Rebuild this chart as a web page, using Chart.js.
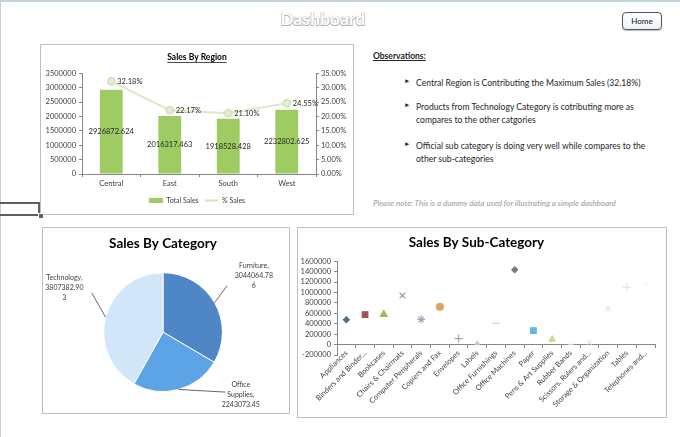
<!DOCTYPE html>
<html>
<head>
<meta charset="utf-8">
<script src="https://cdn.jsdelivr.net/npm/chart.js@4.4.1/dist/chart.umd.min.js"></script>
<style>
html,body{margin:0;padding:0;background:#fff;}
body{width:680px;height:437px;position:relative;overflow:hidden;font-family:Lato,'Open Sans',sans-serif;color:#262626;}
.frame{position:absolute;left:0;top:0;width:680px;height:437px;box-sizing:border-box;border-top:2px solid #c3d2da;border-left:1px solid #c3d2da;}
.box{position:absolute;box-sizing:border-box;border:1px solid #bfbfbf;background:#fff;}
canvas{position:absolute;display:block;}
#dash{position:absolute;left:250px;width:146px;top:8px;text-align:center;font:bold 17px Lato,sans-serif;color:#fff;letter-spacing:0.3px;
  text-shadow:-0.5px -0.5px 0 #b4b4b4,0.5px -0.5px 0 #b4b4b4,-0.5px 0.5px 0 #b4b4b4,0.5px 0.5px 0 #b4b4b4;}
#home{position:absolute;left:622px;top:12px;width:40px;height:18px;box-sizing:border-box;border:1px solid #555;border-radius:4px;background:linear-gradient(#ffffff,#e9f2f7);font:8px Lato,sans-serif;text-align:center;line-height:16px;color:#111;box-shadow:0 1px 1px #bbb;}
#sel{position:absolute;left:-2px;top:202px;width:42px;height:14px;box-sizing:border-box;border:2px solid #5f5f5f;}
#selh{position:absolute;left:38px;top:213px;width:4px;height:4px;background:#5f5f5f;border:1px solid #fff;}
.obs{position:absolute;font-size:8.6px;line-height:12.6px;color:#262626;}
.obsT{position:absolute;left:373px;top:51px;font-weight:bold;font-size:8.5px;text-decoration:underline;color:#262626;}
.bul{position:absolute;font-size:6.5px;color:#262626;}
.note{position:absolute;left:373px;top:198px;font-style:italic;font-weight:400;font-size:8px;color:#9a9a9a;}
</style>
</head>
<body>
<div class="frame"></div>
<div id="dash">Dashboard</div>
<div id="home">Home</div>

<div class="box" style="left:40px;top:44px;width:314px;height:171px;"></div>
<canvas id="cRegion" width="312" height="169" style="left:41px;top:45px;width:312px;height:169px;"></canvas>

<div class="obsT">Observations:</div>
<div class="bul" style="left:404px;top:77px;">&#9658;</div>
<div class="obs" style="left:416px;top:77px;">Central Region is Contributing the Maximum Sales (32.18%)</div>
<div class="bul" style="left:404px;top:101px;">&#9658;</div>
<div class="obs" style="left:416px;top:101px;">Products from Technology Category is cotributing more as<br>compares to the other catgories</div>
<div class="bul" style="left:404px;top:140px;">&#9658;</div>
<div class="obs" style="left:416px;top:140px;">Official sub category is doing very well while compares to the<br>other sub-categories</div>
<div class="note">Please note: This is a dummy data used for illustrating a simple dashboard</div>

<div id="sel"></div><div id="selh"></div>

<div class="box" style="left:42px;top:227px;width:248px;height:187px;"></div>
<canvas id="cPie" width="246" height="185" style="left:43px;top:228px;width:246px;height:185px;"></canvas>

<div class="box" style="left:297px;top:227px;width:370px;height:191px;"></div>
<canvas id="cSub" width="368" height="189" style="left:298px;top:228px;width:368px;height:189px;"></canvas>

<script>
// ---------- DATA ----------
const regions = ['Central', 'East', 'South', 'West'];
const totalSales = [2926872.624, 2016317.463, 1918528.428, 2232802.625];
const pctSales = [32.18, 22.17, 21.10, 24.55];

const categories = ['Furniture', 'Office Supplies', 'Technology'];
const categorySales = [3044064.786, 2243073.45, 3807382.903];

const subCategories = ['Appliances', 'Binders and Binder...', 'Bookcases', 'Chairs & Chairmats',
  'Computer Peripherals', 'Copiers and Fax', 'Envelopes', 'Labels', 'Office Furnishings',
  'Office Machines', 'Paper', 'Pens & Art Supplies', 'Rubber Bands', 'Scissors, Rulers and...',
  'Storage & Organization', 'Tables', 'Telephones and...'];
const subCategorySales = [478000, 574000, 580000, 943000, 484000, 727000, 115000, 20000, 408000,
  1435000, 268000, 100000, 5000, 40000, 690000, 1100000, 1150000];

// ---------- STYLE ----------
Chart.defaults.font.family = 'Lato, sans-serif';
Chart.defaults.color = '#404040';
Chart.defaults.animation = false;
Chart.defaults.devicePixelRatio = 1;
const axisGray = '#868686';
const tickFont = {size: 7.5};
const plainNum = v => String(v);

// ---------- REGION CHART ----------
const regionLabelsPlugin = {
  id: 'regionLabels',
  afterDatasetsDraw(chart) {
    const ctx = chart.ctx;
    ctx.save();
    ctx.font = '7.5px Lato, sans-serif';
    ctx.fillStyle = '#262626';
    ctx.textBaseline = 'middle';
    chart.getDatasetMeta(0).data.forEach((el, i) => {
      ctx.textAlign = 'center';
      ctx.fillText(String(totalSales[i]), el.x, (el.y + el.base) / 2);
    });
    chart.getDatasetMeta(1).data.forEach((el, i) => {
      ctx.textAlign = 'left';
      ctx.fillText(pctSales[i].toFixed(2) + '%', el.x + 6, el.y);
    });
    ctx.restore();
  },
  afterDraw(chart) {
    const t = chart.titleBlock;
    if (!t) return;
    const ctx = chart.ctx;
    ctx.save();
    ctx.font = 'bold 8.5px Lato, sans-serif';
    const w = ctx.measureText(t.options.text).width;
    const cx = (t.left + t.right) / 2;
    const y = t.top + t.options.padding.top + 10.5;
    ctx.strokeStyle = '#000'; ctx.lineWidth = 0.7;
    ctx.beginPath(); ctx.moveTo(cx - w / 2, y); ctx.lineTo(cx + w / 2, y); ctx.stroke();
    ctx.restore();
  }
};

new Chart(document.getElementById('cRegion'), {
  data: {
    labels: regions,
    datasets: [
      {type: 'bar', label: 'Total Sales', data: totalSales, backgroundColor: '#9ecb62',
       barPercentage: 0.39, categoryPercentage: 1, yAxisID: 'y', order: 2},
      {type: 'line', label: '% Sales', data: pctSales, borderColor: '#dce8c6', borderWidth: 2,
       backgroundColor: '#e3edd2', pointRadius: 3.5, pointBackgroundColor: '#e3edd2',
       pointBorderColor: '#d6e4bd', yAxisID: 'y1', order: 1}
    ]
  },
  options: {
    responsive: false,
    layout: {padding: {left: 0, right: 0, top: 0, bottom: 0}},
    plugins: {
      title: {display: true, text: 'Sales By Region', color: '#000', font: {size: 8.5, weight: 'bold'},
              padding: {top: 7, bottom: 11}},
      legend: {position: 'bottom',
        labels: {font: {size: 7}, color: '#404040', boxHeight: 5, padding: 6, usePointStyle: true, pointStyleWidth: 14,
          sort: (a, b) => a.datasetIndex - b.datasetIndex,
          generateLabels(chart) {
            const items = Chart.defaults.plugins.legend.labels.generateLabels(chart);
            items.forEach(it => {
              if (it.datasetIndex === 0) { it.pointStyle = 'rect'; it.lineWidth = 0; it.strokeStyle = '#9ecb62'; }
              else { it.pointStyle = 'line'; it.strokeStyle = '#d6e4bd'; it.lineWidth = 2; }
            });
            return items;
          }}},
      tooltip: {enabled: false}
    },
    scales: {
      x: {grid: {display: true, drawOnChartArea: false, tickLength: 3, color: axisGray, offset: true},
          border: {color: axisGray}, ticks: {font: tickFont, color: '#404040', padding: 2},
          afterFit(s) { s.height = 17; }},
      y: {position: 'left', min: 0, max: 3500000,
          ticks: {stepSize: 500000, font: tickFont, color: '#404040', padding: 3, callback: plainNum, autoSkip: false},
          grid: {drawOnChartArea: false, tickLength: 3, color: axisGray}, border: {color: axisGray},
          afterFit(s) { s.width = 41; }},
      y1: {position: 'right', min: 0, max: 35, ticks: {stepSize: 5, font: tickFont, color: '#404040', padding: 2,
            autoSkip: false, callback: v => Number(v).toFixed(2) + '%'},
          grid: {drawOnChartArea: false, tickLength: 3, color: axisGray}, border: {color: axisGray},
          afterFit(s) { s.width = 37; }}
    }
  },
  plugins: [regionLabelsPlugin]
});

// ---------- CATEGORY PIE ----------
function pieLabelLines(name, value) {
  const words = name.split(' ');
  words[words.length - 1] += ',';
  const v = String(value);
  const out = words.slice();
  for (let i = 0; i < v.length; i += 10) out.push(v.slice(i, i + 10));
  return out;
}
// label placement relative to pie centre, in radius units
const pieLabelPos = [
  {tx: 1.53, ty: -1.12, lx: 1.08, ly: -0.78},
  {tx: 1.31, ty: 0.88, lx: 1.05, ly: 1.01},
  {tx: -1.66, ty: -0.92, lx: -1.20, ly: -0.66}
];
const pieLabelsPlugin = {
  id: 'pieLabels',
  afterDatasetsDraw(chart) {
    const ctx = chart.ctx;
    ctx.save();
    ctx.font = '7px Lato, sans-serif';
    ctx.fillStyle = '#404040';
    ctx.strokeStyle = '#404040';
    ctx.lineWidth = 0.8;
    ctx.textAlign = 'center';
    ctx.textBaseline = 'middle';
    chart.getDatasetMeta(0).data.forEach((el, i) => {
      const p = el.getProps(['x', 'y', 'startAngle', 'endAngle', 'outerRadius']);
      const r = p.outerRadius;
      const mid = (p.startAngle + p.endAngle) / 2;
      const pos = pieLabelPos[i];
      ctx.beginPath();
      ctx.moveTo(p.x + Math.cos(mid) * r, p.y + Math.sin(mid) * r);
      ctx.lineTo(p.x + pos.lx * r, p.y + pos.ly * r);
      ctx.stroke();
      const lines = pieLabelLines(categories[i], categorySales[i]);
      lines.forEach((t, k) => ctx.fillText(t, p.x + pos.tx * r, p.y + pos.ty * r + k * 10));
    });
    ctx.restore();
  }
};

new Chart(document.getElementById('cPie'), {
  type: 'pie',
  data: {
    labels: categories,
    datasets: [{data: categorySales, backgroundColor: ['#4f86c6', '#5da4e6', '#d1e6f9'],
                borderColor: '#ffffff', borderWidth: 1}]
  },
  options: {
    responsive: false,
    layout: {padding: {left: 60, right: 66, top: 0, bottom: 21}},
    plugins: {
      title: {display: true, text: 'Sales By Category', color: '#000', font: {size: 13.5, weight: 'bold'},
              padding: {top: 8, bottom: 20}},
      legend: {display: false},
      tooltip: {enabled: false}
    }
  },
  plugins: [pieLabelsPlugin]
});

// ---------- SUB-CATEGORY SCATTER ----------
const subPointStyles = ['rectRot', 'rect', 'triangle', 'crossRot', 'star', 'circle', 'cross', 'triangle',
  'line', 'rectRot', 'rect', 'triangle', 'line', 'crossRot', 'star', 'cross', 'dash'];
const subPointColors = ['#4d6e94', '#a0524f', '#9bbb59', '#8c8ca3', '#97a6b8', '#e0a466', '#a89db6', '#c9c9c9',
  '#d9c6c6', '#777777', '#5fb7e3', '#cfd68c', '#e3e3e3', '#e3e3e3', '#ebebeb', '#dcdce6', '#eeeeee'];
const subPointRadius = [3, 4, 4, 4, 4, 3.5, 4, 2.5, 4, 3, 4, 3.5, 3, 3, 3, 4, 3];

new Chart(document.getElementById('cSub'), {
  type: 'line',
  data: {
    labels: subCategories,
    datasets: [{label: 'Sales', data: subCategorySales, showLine: false,
      pointStyle: subPointStyles, pointRadius: subPointRadius,
      pointBackgroundColor: subPointColors, pointBorderColor: subPointColors, pointBorderWidth: 1.1}]
  },
  options: {
    responsive: false,
    layout: {padding: {left: 0, right: 11, top: 0, bottom: 62}},
    plugins: {
      title: {display: true, text: 'Sales By Sub-Category', color: '#000', font: {size: 13.5, weight: 'bold'},
              padding: {top: 7, bottom: 10}},
      legend: {display: false},
      tooltip: {enabled: false}
    },
    scales: {
      x: {position: {y: 0}, offset: true,
          grid: {display: true, drawOnChartArea: false, tickLength: 3, color: axisGray, offset: true},
          border: {color: axisGray},
          ticks: {font: tickFont, color: '#404040', minRotation: 45, maxRotation: 45, autoSkip: false, padding: 1}},
      y: {min: -200000, max: 1600000,
          ticks: {stepSize: 200000, font: tickFont, color: '#404040', padding: 3, callback: plainNum, autoSkip: false},
          grid: {drawOnChartArea: false, tickLength: 3, color: axisGray}, border: {color: axisGray},
          afterFit(s) { s.width = 39; }}
    }
  }
});
</script>
</body>
</html>
